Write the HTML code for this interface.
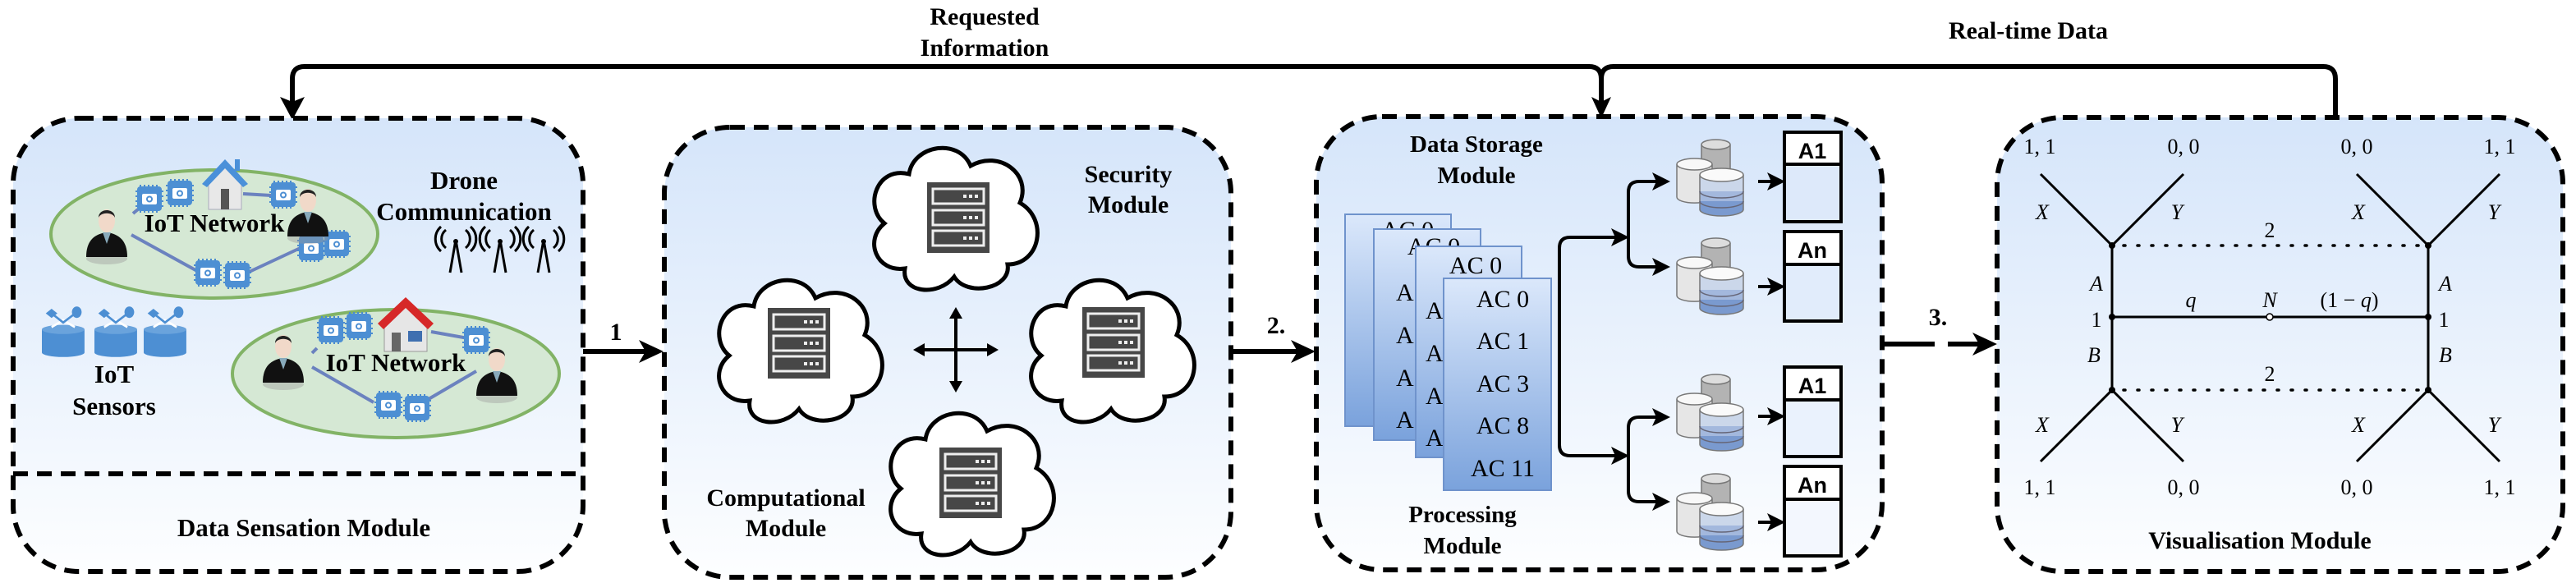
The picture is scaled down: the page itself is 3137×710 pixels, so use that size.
<!DOCTYPE html>
<html><head><meta charset="utf-8"><style>
html,body{margin:0;padding:0;background:#fff;}
svg{display:block;}
.b{font-family:"Liberation Serif","Times New Roman",serif;font-weight:bold;fill:#000;}
.r{font-family:"Liberation Serif","Times New Roman",serif;fill:#000;}
.i{font-family:"Liberation Serif","Times New Roman",serif;font-style:italic;fill:#000;}
.s{font-family:"Liberation Sans",sans-serif;font-weight:bold;fill:#000;}
</style></head><body>
<svg width="3137" height="710" viewBox="0 0 3137 710" xmlns="http://www.w3.org/2000/svg" font-family="Liberation Serif, serif">
<defs>
<linearGradient id="bg" x1="0" y1="0" x2="0" y2="1"><stop offset="0" stop-color="#d5e5fa"/><stop offset="1" stop-color="#fdfeff"/></linearGradient>
<linearGradient id="card" x1="0" y1="0" x2="0" y2="1"><stop offset="0" stop-color="#dbe8fb"/><stop offset="1" stop-color="#7aa2dc"/></linearGradient>
<g id="cloud"><path d="M55,155 C20,160 5,120 30,100 C5,80 20,30 60,40 C65,5 120,-5 135,30 C170,10 210,40 195,75 C230,95 220,150 180,150 C185,180 130,190 115,165 C95,190 50,185 55,155 Z" fill="#fff" stroke="#000" stroke-width="5"/></g>
<g id="server"><rect x="0" y="0" width="76" height="86" fill="#474747"/>
<g fill="none" stroke="#eee" stroke-width="3"><rect x="7" y="8" width="62" height="18"/><rect x="7" y="34" width="62" height="18"/><rect x="7" y="59" width="62" height="18"/></g>
<g fill="#eee"><rect x="44" y="15" width="4" height="4"/><rect x="51" y="15" width="4" height="4"/><rect x="58" y="15" width="4" height="4"/><rect x="44" y="41" width="4" height="4"/><rect x="51" y="41" width="4" height="4"/><rect x="58" y="41" width="4" height="4"/><rect x="44" y="66" width="4" height="4"/><rect x="51" y="66" width="4" height="4"/><rect x="58" y="66" width="4" height="4"/></g></g>
<g id="db">
<path d="M30,8 v30 a17,6 0 0 0 35,0 v-30" fill="#b3b3b3" stroke="#777" stroke-width="1.5"/><ellipse cx="47.5" cy="8" rx="17.5" ry="6" fill="#ddd" stroke="#777" stroke-width="1.5"/>
<path d="M0,32 v40 a21,7 0 0 0 43,0 v-40" fill="#e6e6e6" stroke="#777" stroke-width="1.5"/><ellipse cx="21.5" cy="32" rx="21.5" ry="7" fill="#f8f8f8" stroke="#777" stroke-width="1.5"/>
<path d="M28,45 v20 h53 v-20" fill="#cbd7ea"/><path d="M28,65 v12 h53 v-12" fill="#a3b8dd"/><path d="M28,77 v10 a26.5,8 0 0 0 53,0 v-10" fill="#7a9acf"/>
<path d="M28,45 v42 a26.5,8 0 0 0 53,0 v-42" fill="none" stroke="#777" stroke-width="1.5"/><ellipse cx="54.5" cy="45" rx="26.5" ry="8" fill="#fafafa" stroke="#777" stroke-width="1.5"/>
<path d="M28,65 a26.5,8 0 0 0 53,0 M28,77 a26.5,8 0 0 0 53,0" fill="none" stroke="#667" stroke-width="1.5"/></g>
<g id="chip"><g stroke="#4a8bd0" stroke-width="2"><path d="M4,-2v4M9,-2v4M14,-2v4M19,-2v4M24,-2v4M4,28v4M9,28v4M14,28v4M19,28v4M24,28v4M-2,6h4M-2,12h4M-2,18h4M-2,24h4M28,6h4M28,12h4M28,18h4M28,24h4"/></g><rect x="0" y="0" width="30" height="30" rx="4" fill="#4d8fd3"/><rect x="6" y="9" width="18" height="13" rx="2" fill="#fff"/><circle cx="15" cy="15.5" r="4" fill="#4d8fd3"/><circle cx="15" cy="15.5" r="2" fill="#fff"/></g>
<g id="person"><ellipse cx="23" cy="62" rx="25" ry="7" fill="#999" opacity="0.4"/><path d="M-2,60 C-2,40 8,32 23,30 C38,32 48,40 48,60 Z" fill="#111"/><path d="M18,30 L23,44 L28,30 Z" fill="#8ab"/><ellipse cx="23" cy="16" rx="10" ry="14" fill="#f1d9c9"/><path d="M13,12 C13,0 33,0 33,12 C30,5 16,5 13,12 Z" fill="#222"/></g>
<g id="sensor"><path d="M0,18 h44 v20 a22,4 0 0 1 -44,0 Z" fill="#4d8fd3"/><ellipse cx="22" cy="18" rx="22" ry="4" fill="#6aa3dc"/><path d="M10,16 l12,-6 l12,6" fill="none" stroke="#fff" stroke-width="2"/><path d="M4,4 l6,-4 l6,4 l-6,4 Z" fill="#4d8fd3"/><circle cx="36" cy="3" r="5" fill="#4d8fd3"/><path d="M10,4 L22,12 L36,3" fill="none" stroke="#4d8fd3" stroke-width="2"/></g>
<g id="ant"><path d="M0,40 L7,0 L14,40" fill="none" stroke="#000" stroke-width="3"/><circle cx="7" cy="2" r="3"/><path d="M-5,-12 a14,14 0 0 0 0,22 M-11,-16 a20,20 0 0 0 0,30 M19,-12 a14,14 0 0 1 0,22 M25,-16 a20,20 0 0 1 0,30" fill="none" stroke="#000" stroke-width="3"/></g>
</defs>

<path d="M356,124 V96 Q356,81 371,81 H1935 Q1950,81 1950,96 V124" fill="none" stroke="#000" stroke-width="6"/>
<path d="M1950,96 Q1950,81 1965,81 H2829 Q2844,81 2844,96 V143" fill="none" stroke="#000" stroke-width="6"/>
<path d="M341,118 L356,146 L371,118 L356,124 Z"/>
<path d="M1938,118 L1950,144 L1962,118 L1950,124 Z"/>
<text class="b" x="1199" y="30" font-size="30" text-anchor="middle">Requested</text>
<text class="b" x="1199" y="68" font-size="30" text-anchor="middle">Information</text>
<text class="b" x="2470" y="47" font-size="30" text-anchor="middle">Real-time Data</text>

<rect x="16" y="144" width="694" height="552" rx="80" fill="url(#bg)" stroke="#000" stroke-width="6" stroke-dasharray="18 11"/>
<rect x="809" y="155" width="690" height="548" rx="80" fill="url(#bg)" stroke="#000" stroke-width="6" stroke-dasharray="18 11"/>
<rect x="1603" y="142" width="689" height="552" rx="80" fill="url(#bg)" stroke="#000" stroke-width="6" stroke-dasharray="18 11"/>
<rect x="2432" y="143" width="689" height="553" rx="80" fill="url(#bg)" stroke="#000" stroke-width="6" stroke-dasharray="18 11"/>
<path d="M16,577 H710" stroke="#000" stroke-width="6" stroke-dasharray="18 11"/>

<path d="M710,428 H790" stroke="#000" stroke-width="6"/>
<path d="M778,414 L808,428 L778,442 L786,428 Z"/>
<text class="b" x="750" y="414" font-size="30" text-anchor="middle">1</text>
<path d="M1499,428 H1585" stroke="#000" stroke-width="6"/>
<path d="M1572,414 L1602,428 L1572,442 L1580,428 Z"/>
<text class="b" x="1554" y="406" font-size="30" text-anchor="middle">2.</text>
<path d="M2292,419 H2356 M2372,419 H2415" stroke="#000" stroke-width="6"/>
<path d="M2402,405 L2432,419 L2402,433 L2410,419 Z"/>
<text class="b" x="2360" y="396" font-size="30" text-anchor="middle">3.</text>

<ellipse cx="261" cy="285" rx="199" ry="78" fill="#d5e8d4" stroke="#82b366" stroke-width="4"/>
<ellipse cx="482" cy="455" rx="199" ry="78" fill="#d5e8d4" stroke="#82b366" stroke-width="4"/>
<g stroke="#6b82bf" stroke-width="4" fill="none">
<path d="M160,286 L240,330 M295,335 L370,300 M296,236 L330,238 M162,260 L168,255"/>
<path d="M380,447 L455,490 M510,493 L580,452 M525,404 L570,412 M380,430 L386,424"/>
</g>
<use href="#chip" x="167" y="227"/><use href="#chip" x="204" y="220"/><use href="#chip" x="330" y="222"/><use href="#chip" x="364" y="287"/><use href="#chip" x="395" y="282"/><use href="#chip" x="238" y="317"/><use href="#chip" x="274" y="320"/>
<use href="#chip" x="388" y="387"/><use href="#chip" x="422" y="382"/><use href="#chip" x="565" y="399"/><use href="#chip" x="458" y="478"/><use href="#chip" x="493" y="482"/>
<use href="#person" x="107" y="253"/><use href="#person" x="352" y="228"/><use href="#person" x="322" y="406"/><use href="#person" x="582" y="422"/>
<g><path d="M254,220 L274,200 L294,220 V255 H254 Z" fill="#e8e8e8" stroke="#aab" stroke-width="1"/><path d="M246,224 L274,194 L302,224 L296,228 L274,205 L252,228 Z" fill="#4a90d9"/><rect x="269" y="230" width="10" height="25" fill="#555"/><rect x="286" y="194" width="6" height="14" fill="#4a90d9"/></g>
<g><path d="M468,392 L494,368 L520,392 V428 H468 Z" fill="#e6e6e6" stroke="#999" stroke-width="1"/><path d="M460,394 L494,362 L528,394 L521,401 L494,375 L467,401 Z" fill="#d62828"/><rect x="477" y="405" width="11" height="23" fill="#666"/><rect x="497" y="403" width="17" height="13" fill="#3f6fb0"/></g>
<text class="b" x="261" y="282" font-size="31" text-anchor="middle">IoT Network</text>
<text class="b" x="482" y="452" font-size="31" text-anchor="middle">IoT Network</text>
<text class="b" x="565" y="230" font-size="31" text-anchor="middle">Drone</text>
<text class="b" x="565" y="268" font-size="31" text-anchor="middle">Communication</text>
<use href="#ant" x="548" y="292"/><use href="#ant" x="602" y="292"/><use href="#ant" x="655" y="292"/>
<g transform="translate(51,376) scale(1.18,1.4)"><use href="#sensor" x="0" y="0"/></g>
<g transform="translate(115,376) scale(1.18,1.4)"><use href="#sensor" x="0" y="0"/></g>
<g transform="translate(175,376) scale(1.18,1.4)"><use href="#sensor" x="0" y="0"/></g>
<text class="b" x="139" y="466" font-size="31" text-anchor="middle">IoT</text>
<text class="b" x="139" y="505" font-size="31" text-anchor="middle">Sensors</text>
<text class="b" x="370" y="653" font-size="31" text-anchor="middle">Data Sensation Module</text>

<use href="#cloud" x="1047" y="172"/><use href="#server" x="1129" y="222"/>
<use href="#cloud" x="858" y="333"/><use href="#server" x="935" y="375"/>
<use href="#cloud" x="1238" y="333"/><use href="#server" x="1318" y="374"/>
<use href="#cloud" x="1067" y="495"/><use href="#server" x="1144" y="545"/>
<path d="M1118,426 H1210 M1164,380 V472" stroke="#000" stroke-width="4"/>
<path d="M1112,426 l14,-8 v16 Z M1216,426 l-14,-8 v16 Z M1164,374 l-8,14 h16 Z M1164,478 l-8,-14 h16 Z"/>
<text class="b" x="1374" y="222" font-size="30" text-anchor="middle">Security</text>
<text class="b" x="1374" y="259" font-size="30" text-anchor="middle">Module</text>
<text class="b" x="957" y="616" font-size="30" text-anchor="middle">Computational</text>
<text class="b" x="957" y="653" font-size="30" text-anchor="middle">Module</text>

<text class="b" x="1798" y="185" font-size="29" text-anchor="middle">Data Storage</text>
<text class="b" x="1798" y="223" font-size="29" text-anchor="middle">Module</text>
<rect x="1638" y="261" width="129" height="258" fill="url(#card)" stroke="#6f93cc" stroke-width="2"/>
<text class="r" x="1714" y="290" font-size="30" text-anchor="middle">AC 0</text>
<rect x="1673" y="279" width="130" height="257" fill="url(#card)" stroke="#6f93cc" stroke-width="2"/>
<text class="r" x="1746" y="310" font-size="30" text-anchor="middle">AC 0</text>
<text class="r" x="1700" y="366" font-size="30">A</text><text class="r" x="1700" y="418" font-size="30">A</text><text class="r" x="1700" y="470" font-size="30">A</text><text class="r" x="1700" y="521" font-size="30">A</text>
<rect x="1724" y="300" width="129" height="257" fill="url(#card)" stroke="#6f93cc" stroke-width="2"/>
<text class="r" x="1797" y="333" font-size="30" text-anchor="middle">AC 0</text>
<text class="r" x="1736" y="388" font-size="30">A</text><text class="r" x="1736" y="440" font-size="30">A</text><text class="r" x="1736" y="492" font-size="30">A</text><text class="r" x="1736" y="543" font-size="30">A</text>
<rect x="1758" y="339" width="131" height="258" fill="url(#card)" stroke="#6f93cc" stroke-width="2"/>
<text class="r" x="1830" y="374" font-size="30" text-anchor="middle">AC 0</text>
<text class="r" x="1830" y="425" font-size="30" text-anchor="middle">AC 1</text>
<text class="r" x="1830" y="477" font-size="30" text-anchor="middle">AC 3</text>
<text class="r" x="1830" y="528" font-size="30" text-anchor="middle">AC 8</text>
<text class="r" x="1830" y="580" font-size="30" text-anchor="middle">AC 11</text>
<text class="b" x="1781" y="636" font-size="29" text-anchor="middle">Processing</text>
<text class="b" x="1781" y="674" font-size="29" text-anchor="middle">Module</text>
<g fill="none" stroke="#000" stroke-width="4">
<path d="M1970,289 H1912 Q1899,289 1899,302 V542 Q1899,555 1912,555 H1970"/>
<path d="M2026,221 H1996 Q1983,221 1983,234 V312 Q1983,325 1996,325 H2026"/>
<path d="M2026,508 H1996 Q1983,508 1983,521 V598 Q1983,611 1996,611 H2026"/>
<path d="M2141,221 H2166 M2141,349 H2166 M2141,507 H2166 M2141,636 H2166"/>
</g>
<g>
<path d="M1962,278 L1984,289 L1962,300 L1967,289 Z"/><path d="M1962,544 L1984,555 L1962,566 L1967,555 Z"/>
<path d="M2012,210 L2034,221 L2012,232 L2017,221 Z"/><path d="M2012,314 L2034,325 L2012,336 L2017,325 Z"/>
<path d="M2012,497 L2034,508 L2012,519 L2017,508 Z"/><path d="M2012,600 L2034,611 L2012,622 L2017,611 Z"/>
<path d="M2152,210 L2174,221 L2152,232 L2157,221 Z"/><path d="M2152,338 L2174,349 L2152,360 L2157,349 Z"/>
<path d="M2152,496 L2174,507 L2152,518 L2157,507 Z"/><path d="M2152,625 L2174,636 L2152,647 L2157,636 Z"/>
</g>
<use href="#db" x="2042" y="168"/><use href="#db" x="2042" y="288"/><use href="#db" x="2042" y="454"/><use href="#db" x="2042" y="575"/>
<g fill="none" stroke="#000" stroke-width="4">
<rect x="2173" y="161" width="69" height="109" fill="#fff"/><rect x="2173" y="200" width="69" height="70" fill="#dde9fa"/>
<rect x="2173" y="282" width="69" height="109" fill="#fff"/><rect x="2173" y="322" width="69" height="69" fill="#e1ecfb"/>
<rect x="2173" y="447" width="69" height="109" fill="#fff"/><rect x="2173" y="487" width="69" height="69" fill="#eaf2fd"/>
<rect x="2173" y="568" width="69" height="109" fill="#fff"/><rect x="2173" y="608" width="69" height="69" fill="#f3f7fe"/>
</g>
<text class="s" x="2207" y="193" font-size="27" text-anchor="middle">A1</text>
<text class="s" x="2207" y="314" font-size="27" text-anchor="middle">An</text>
<text class="s" x="2207" y="479" font-size="27" text-anchor="middle">A1</text>
<text class="s" x="2207" y="600" font-size="27" text-anchor="middle">An</text>

<g stroke="#000" stroke-width="3" fill="none">
<path d="M2485,212 L2572,299 L2659,212 M2870,212 L2957,299 L3044,212"/>
<path d="M2485,562 L2572,475 L2659,562 M2870,562 L2957,475 L3044,562"/>
<path d="M2572,299 V475 M2957,299 V475 M2572,386 H2957"/>
<path d="M2586,299 H2945 M2586,475 H2945" stroke-width="3.5" stroke-dasharray="2 15" stroke-linecap="round"/>
</g>
<g><circle cx="2572" cy="299" r="4"/><circle cx="2957" cy="299" r="4"/><circle cx="2572" cy="475" r="4"/><circle cx="2957" cy="475" r="4"/><circle cx="2572" cy="386" r="4"/><circle cx="2957" cy="386" r="4"/></g>
<circle cx="2764" cy="386" r="4" fill="#fff" stroke="#000" stroke-width="1.5"/>
<g font-size="26">
<text class="r" x="2484" y="187" text-anchor="middle">1, 1</text><text class="r" x="2659" y="187" text-anchor="middle">0, 0</text><text class="r" x="2870" y="187" text-anchor="middle">0, 0</text><text class="r" x="3044" y="187" text-anchor="middle">1, 1</text>
<text class="r" x="2484" y="602" text-anchor="middle">1, 1</text><text class="r" x="2659" y="602" text-anchor="middle">0, 0</text><text class="r" x="2870" y="602" text-anchor="middle">0, 0</text><text class="r" x="3044" y="602" text-anchor="middle">1, 1</text>
<text class="i" x="2487" y="267" text-anchor="middle">X</text><text class="i" x="2651" y="267" text-anchor="middle">Y</text><text class="i" x="2872" y="267" text-anchor="middle">X</text><text class="i" x="3037" y="267" text-anchor="middle">Y</text>
<text class="i" x="2487" y="526" text-anchor="middle">X</text><text class="i" x="2651" y="526" text-anchor="middle">Y</text><text class="i" x="2872" y="526" text-anchor="middle">X</text><text class="i" x="3037" y="526" text-anchor="middle">Y</text>
<text class="r" x="2764" y="289" text-anchor="middle">2</text><text class="r" x="2764" y="464" text-anchor="middle">2</text>
<text class="i" x="2553" y="354" text-anchor="middle">A</text><text class="r" x="2553" y="398" text-anchor="middle">1</text><text class="i" x="2550" y="441" text-anchor="middle">B</text>
<text class="i" x="2978" y="354" text-anchor="middle">A</text><text class="r" x="2976" y="398" text-anchor="middle">1</text><text class="i" x="2978" y="441" text-anchor="middle">B</text>
<text class="i" x="2668" y="374" text-anchor="middle">q</text><text class="i" x="2764" y="374" text-anchor="middle">N</text><text class="r" x="2861" y="374" text-anchor="middle">(1 − <tspan class="i">q</tspan>)</text>
</g>
<text class="b" x="2752" y="668" font-size="30" text-anchor="middle">Visualisation Module</text>
</svg>
</body></html>
